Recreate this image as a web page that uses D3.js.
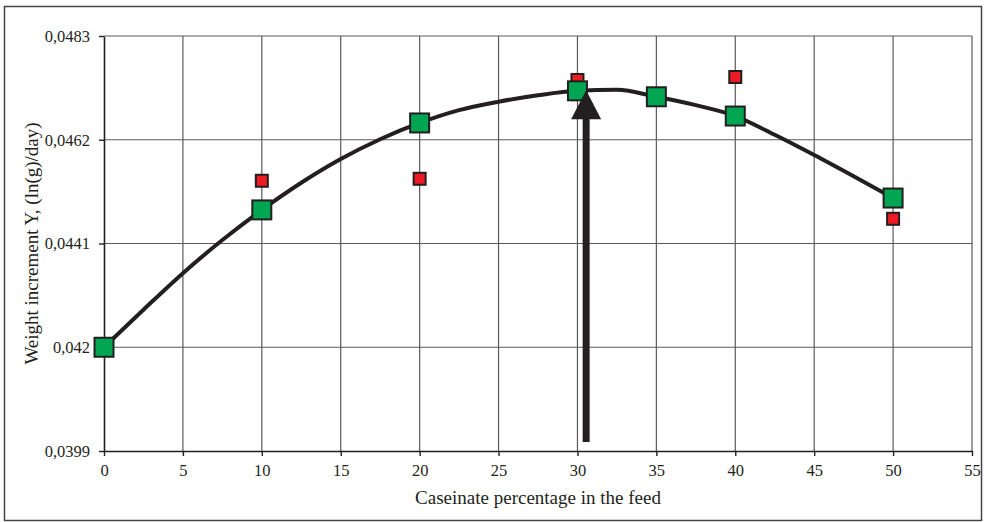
<!DOCTYPE html>
<html>
<head>
<meta charset="utf-8">
<script src="https://cdn.jsdelivr.net/npm/d3@7"></script>
<style>
  body { margin: 0; background: #fff; }
  svg { display: block; }
  text { font-family: "Liberation Serif", "DejaVu Serif", serif; fill: #231f20; }
</style>
</head>
<body>
<script>
// fitted curve, caseinate % vs weight increment
const curveX = [0, 2.5, 5, 7.5, 10, 12.5, 15, 17.5, 20, 22.5, 25, 27.5, 30, 32.5, 35, 37.5, 40, 42.5, 45, 47.5, 50];
const curveY = [0.04200, 0.04276, 0.04350, 0.04417, 0.04478, 0.04533, 0.04581, 0.04621, 0.04654, 0.04680, 0.04697, 0.04710, 0.04719, 0.04721, 0.04707, 0.04690, 0.04668, 0.04630, 0.04589, 0.04546, 0.04502];

// green squares
const greenX = [0, 10, 20, 30, 35, 40, 50];
const greenY = [0.04200, 0.04478, 0.04654, 0.04719, 0.04707, 0.04668, 0.04502];

// red squares
const redX = [10, 20, 30, 40, 50];
const redY = [0.04537, 0.04541, 0.04741, 0.04747, 0.04460];

// arrow marking the optimum
const arrowX = 30.55;
const arrowFrom = 0.04008, arrowTo = 0.04720;

const xTicks = [0, 5, 10, 15, 20, 25, 30, 35, 40, 45, 50, 55];
const yTicks = [0.0399, 0.0420, 0.0441, 0.0462, 0.0483];
const yTickLabels = ['0,0399', '0,042', '0,0441', '0,0462', '0,0483'];

const width = 989, height = 522;
const margin = { left: 104, right: 17, top: 36, bottom: 71 };

const svg = d3.select('body').append('svg')
  .attr('width', width)
  .attr('height', height);

// outer frame
svg.append('rect')
  .attr('x', 4.5).attr('y', 6.5)
  .attr('width', 977).attr('height', 514)
  .attr('fill', 'none')
  .attr('stroke', '#444')
  .attr('stroke-width', 1.5);

const x = d3.scaleLinear().domain([0, 55]).range([margin.left, width - margin.right]);
const y = d3.scaleLinear().domain([0.0399, 0.0483]).range([height - margin.bottom, margin.top]);

// grid
svg.append('g')
  .selectAll('line')
  .data(xTicks.slice(1))
  .enter().append('line')
  .attr('x1', d => x(d)).attr('x2', d => x(d))
  .attr('y1', y(0.0399)).attr('y2', y(0.0483))
  .attr('stroke', '#5a5a5a').attr('stroke-width', 1.2);

svg.append('g')
  .selectAll('line')
  .data(yTicks.slice(1))
  .enter().append('line')
  .attr('x1', x(0)).attr('x2', x(55))
  .attr('y1', d => y(d)).attr('y2', d => y(d))
  .attr('stroke', '#5a5a5a').attr('stroke-width', 1.2);

// axes
const xAxis = svg.append('g')
  .attr('transform', 'translate(0,' + y(0.0399) + ')')
  .call(d3.axisBottom(x).tickValues(xTicks).tickSize(5).tickPadding(8).tickSizeOuter(0));

const yAxis = svg.append('g')
  .attr('transform', 'translate(' + x(0) + ',0)')
  .call(d3.axisLeft(y).tickValues(yTicks).tickSize(5).tickPadding(9).tickSizeOuter(0)
    .tickFormat((d, i) => yTickLabels[i]));

[xAxis, yAxis].forEach(a => {
  a.select('.domain').attr('stroke', '#231f20').attr('stroke-width', 1.6);
  a.selectAll('.tick line').attr('stroke', '#231f20').attr('stroke-width', 1.4);
  a.selectAll('.tick text')
    .attr('font-family', '"Liberation Serif", serif')
    .attr('font-size', 16.5)
    .attr('fill', '#231f20');
});

// titles
svg.append('text')
  .attr('x', x(27.5))
  .attr('y', 504)
  .attr('text-anchor', 'middle')
  .attr('font-size', 19)
  .text('Caseinate percentage in the feed');

svg.append('text')
  .attr('transform', 'translate(38,' + y(0.0441) + ') rotate(-90)')
  .attr('text-anchor', 'middle')
  .attr('font-size', 19)
  .text('Weight increment Y, (ln(g)/day)');

// fitted curve
const line = d3.line()
  .x(d => x(d[0]))
  .y(d => y(d[1]))
  .curve(d3.curveMonotoneX);

svg.append('path')
  .datum(curveX.map((v, i) => [v, curveY[i]]))
  .attr('d', line)
  .attr('fill', 'none')
  .attr('stroke', '#231f20')
  .attr('stroke-width', 4)
  .attr('stroke-linejoin', 'round');

// red squares
const redSize = 12;
svg.append('g')
  .selectAll('rect')
  .data(redX.map((v, i) => [v, redY[i]]))
  .enter().append('rect')
  .attr('x', d => x(d[0]) - redSize / 2)
  .attr('y', d => y(d[1]) - redSize / 2)
  .attr('width', redSize).attr('height', redSize)
  .attr('fill', '#ed1c24')
  .attr('stroke', '#231f20')
  .attr('stroke-width', 2);

// green squares
const greenSize = 19;
svg.append('g')
  .selectAll('rect')
  .data(greenX.map((v, i) => [v, greenY[i]]))
  .enter().append('rect')
  .attr('x', d => x(d[0]) - greenSize / 2)
  .attr('y', d => y(d[1]) - greenSize / 2)
  .attr('width', greenSize).attr('height', greenSize)
  .attr('fill', '#00a651')
  .attr('stroke', '#231f20')
  .attr('stroke-width', 2);

// arrow
const ax = x(arrowX), headLen = 29, headHalf = 15;
svg.append('line')
  .attr('x1', ax).attr('x2', ax)
  .attr('y1', y(arrowFrom)).attr('y2', y(arrowTo) + headLen - 2)
  .attr('stroke', '#231f20')
  .attr('stroke-width', 7);

svg.append('path')
  .attr('d', 'M' + ax + ',' + y(arrowTo) +
    'L' + (ax + headHalf) + ',' + (y(arrowTo) + headLen) +
    'L' + (ax - headHalf) + ',' + (y(arrowTo) + headLen) + 'Z')
  .attr('fill', '#231f20');
</script>
</body>
</html>
